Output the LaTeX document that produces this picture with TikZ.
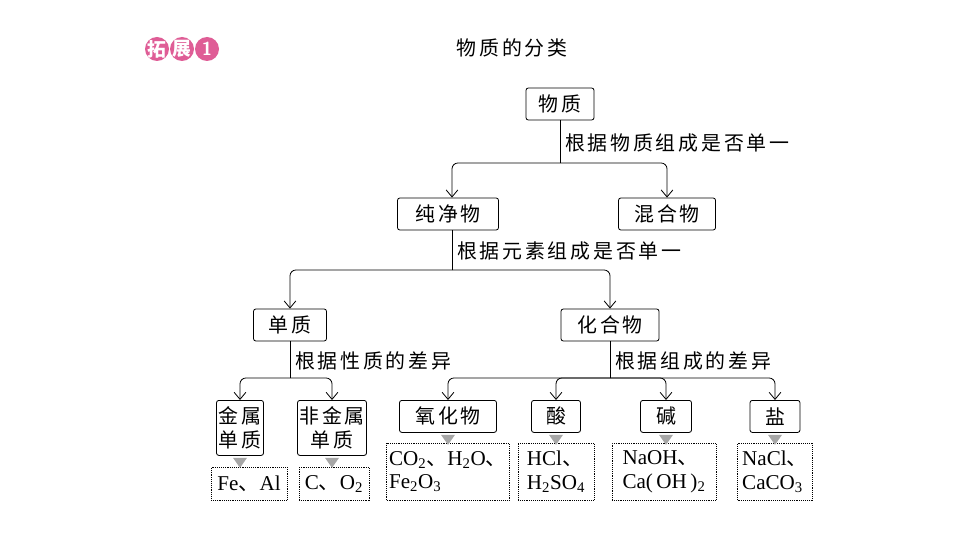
\documentclass[tikz,border=0pt]{standalone}
\usepackage{fontspec}
\setmainfont{Liberation Serif}
\newfontfamily\cjk[LetterSpace=14]{Noto Sans CJK SC}
\usetikzlibrary{arrows.meta,calc}
\definecolor{badgepink}{rgb}{0.875,0.365,0.588}
\newcommand{\sub}[1]{\textsubscript{#1}}
\tikzset{
  box/.style={draw,line width=0.7pt,rounded corners=2pt,font=\cjk\fontsize{17}{21}\selectfont,
              inner sep=0pt,minimum height=32*0.03cm},
  ex/.style={draw,densely dotted,line width=0.6pt,inner sep=2pt,align=left,anchor=north,
             font=\fontsize{18}{20}\selectfont},
  lbl/.style={anchor=west,font=\cjk\fontsize{17}{21}\selectfont},
  arr/.style={-{Straight Barb[length=6pt,width=10pt]},line width=0.7pt,rounded corners=5pt},
  ln/.style={line width=0.7pt},
  tri/.style={fill=gray!70}
}
\begin{document}
\begin{tikzpicture}[x=0.03cm,y=-0.03cm]
\useasboundingbox (0,0) rectangle (960,540);

% badge and title
\fill[badgepink] (157,49) circle (12) (182,49) circle (12) (207,49) circle (12);
\node[white,font=\cjk\fontsize{16}{18}\selectfont\bfseries] (bd1) at (157,49) {拓};
\node[white,font=\cjk\fontsize{16}{18}\selectfont\bfseries] (bd2) at (182,49) {展};
\node[white,font=\sffamily\fontsize{16}{18}\selectfont\bfseries] (bd3) at (207,49) {1};
\node[font=\cjk\fontsize{17}{20}\selectfont] (title) at (512,48) {物质的分类};

% boxes
\node[box,minimum width=68*0.03cm] (wz) at (560,104) {物质};
\node[box,minimum width=101*0.03cm] (cjw) at (448,214) {纯净物};
\node[box,minimum width=97*0.03cm] (hhw) at (667,214) {混合物};
\node[box,minimum width=73*0.03cm] (dz) at (290,325) {单质};
\node[box,minimum width=98*0.03cm] (hhw2) at (610,325) {化合物};
\node[box,minimum width=47*0.03cm,minimum height=55*0.03cm,align=center,anchor=north] (js) at (240,400) {金属\\单质};
\node[box,minimum width=69*0.03cm,minimum height=55*0.03cm,align=center,anchor=north] (fjs) at (332,400) {非金属\\单质};
\node[box,minimum width=97*0.03cm,anchor=north] (yhw) at (448,400) {氧化物};
\node[box,minimum width=49*0.03cm,anchor=north] (suan) at (556,400) {酸};
\node[box,minimum width=51*0.03cm,anchor=north] (jian) at (666,400) {碱};
\node[box,minimum width=50*0.03cm,anchor=north] (yan) at (775,400) {盐};

% examples
\node[ex,minimum width=76*0.03cm,minimum height=33*0.03cm] (ejs) at (249,467) {Fe{\cjk 、}Al};
\node[ex,minimum width=70*0.03cm,minimum height=33*0.03cm] (efjs) at (334,467) {C{\cjk 、}O\sub{2}};
\node[ex,minimum width=122*0.03cm,minimum height=57*0.03cm] (eyhw) at (448,443) {CO\sub{2}{\cjk 、}H\sub{2}O{\cjk 、}\\Fe\sub{2}O\sub{3}};
\node[ex,minimum width=76*0.03cm,minimum height=57*0.03cm] (esuan) at (556,443) {HCl{\cjk 、}\\H\sub{2}SO\sub{4}};
\node[ex,minimum width=104*0.03cm,minimum height=57*0.03cm] (ejian) at (664,443) {NaOH{\cjk 、}\\Ca(\,OH\,)\sub{2}};
\node[ex,minimum width=75*0.03cm,minimum height=57*0.03cm] (eyan) at (775,443) {NaCl{\cjk 、}\\CaCO\sub{3}};

% triangles
\foreach \b in {js,fjs,yhw,suan,jian,yan}
  \fill[tri] ($(\b.south)+(-7,2)$) -- ++(14,0) -- ++(-7,10) -- cycle;

% branch labels
\node[lbl] (l1) at (561,143) {根据物质组成是否单一};
\node[lbl] (l2) at (453,251) {根据元素组成是否单一};
\node[lbl] (l3) at (291,361) {根据性质的差异};
\node[lbl] (l4) at (611,361) {根据组成的差异};

% connectors
\coordinate (j1) at (560,163);
\coordinate (j2) at (452,270);
\coordinate (j3) at (290,378);
\coordinate (j4) at (610,378);
\draw[ln] (wz.south) -- (j1);
\draw[arr] (j1) -| (cjw.north -| j2);
\draw[arr] (j1) -| (hhw.north);
\draw[ln] (cjw.south -| j2) -- (j2);
\draw[arr] (j2) -| (dz.north);
\draw[arr] (j2) -| (hhw2.north);
\draw[ln] (dz.south) -- (j3);
\draw[arr] (j3) -| (js.north);
\draw[arr] (j3) -| (fjs.north);
\draw[ln] (hhw2.south) -- (j4);
\draw[arr] (j4) -| (yhw.north);
\draw[arr] (j4) -| (suan.north);
\draw[arr] (j4) -| (jian.north);
\draw[arr] (j4) -| (yan.north);
\end{tikzpicture}
\end{document}
